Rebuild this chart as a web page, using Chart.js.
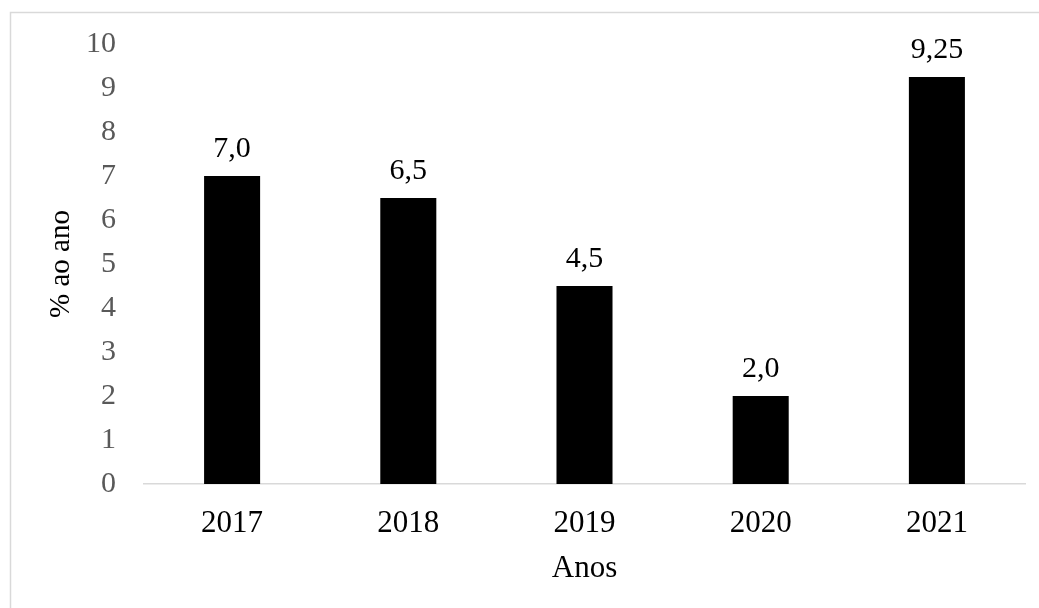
<!DOCTYPE html>
<html>
<head>
<meta charset="utf-8">
<script src="https://cdn.jsdelivr.net/npm/chart.js@4/dist/chart.umd.min.js"></script>
<style>
  html, body { margin: 0; padding: 0; background: #fff; }
  #wrap { width: 1039px; height: 608px; position: relative; }
</style>
</head>
<body>
<div id="wrap"><canvas id="c" width="1039" height="608"></canvas></div>
<script>
const categories = ["2017", "2018", "2019", "2020", "2021"];
const values = [7.0, 6.5, 4.5, 2.0, 9.25];
const valueLabels = ["7,0", "6,5", "4,5", "2,0", "9,25"];
const yTicks = [0, 1, 2, 3, 4, 5, 6, 7, 8, 9, 10];
const xTitle = "Anos";
const yTitle = "% ao ano";

const FONT = "'Liberation Serif', 'Times New Roman', serif";

const frame = {
  id: 'frame',
  beforeDraw(chart) {
    const ctx = chart.ctx;
    ctx.save();
    ctx.fillStyle = '#fff';
    ctx.fillRect(0, 0, chart.width, chart.height);
    ctx.strokeStyle = '#d9d9d9';
    ctx.lineWidth = 1.5;
    ctx.strokeRect(10.5, 12.5, chart.width + 20, chart.height + 20);
    ctx.restore();
  }
};

const valueLabelPlugin = {
  id: 'valueLabels',
  afterDatasetsDraw(chart) {
    const ctx = chart.ctx;
    const meta = chart.getDatasetMeta(0);
    ctx.save();
    ctx.font = "30px " + FONT;
    ctx.fillStyle = '#000';
    ctx.textAlign = 'center';
    ctx.textBaseline = 'middle';
    meta.data.forEach((bar, i) => {
      ctx.fillText(valueLabels[i], bar.x, bar.y - 27);
    });
    ctx.restore();
  }
};

new Chart(document.getElementById('c'), {
  type: 'bar',
  data: {
    labels: categories,
    datasets: [{
      data: values,
      backgroundColor: '#000',
      borderWidth: 0,
      barPercentage: 0.318,
      categoryPercentage: 1.0
    }]
  },
  options: {
    responsive: false,
    animation: false,
    devicePixelRatio: 1,
    layout: { padding: { top: 44, right: 14, bottom: 0, left: 0 } },
    plugins: { legend: { display: false }, tooltip: { enabled: false } },
    scales: {
      x: {
        grid: { display: false },
        border: { display: true, color: '#d9d9d9', width: 1.5 },
        ticks: { color: '#000', font: { family: FONT, size: 31 }, padding: 13 },
        title: { display: true, text: xTitle, color: '#000', font: { family: FONT, size: 31 }, padding: { top: 0, bottom: 21 } },
        afterFit(scale) { scale.height = 124; }
      },
      y: {
        min: 0,
        max: 10,
        grid: { display: false },
        border: { display: false },
        afterBuildTicks(scale) { scale.ticks = yTicks.map(v => ({ value: v })); },
        ticks: { color: '#595959', font: { family: FONT, size: 30 }, padding: 20 },
        title: { display: true, text: yTitle, color: '#000', font: { family: FONT, size: 29 }, padding: { top: 44, bottom: 0 } },
        afterFit(scale) { scale.width = 144; }
      }
    }
  },
  plugins: [frame, valueLabelPlugin]
});
</script>
</body>
</html>
